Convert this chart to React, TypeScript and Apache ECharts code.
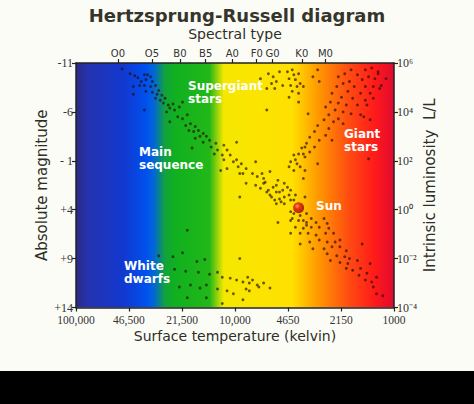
import React, { useEffect, useRef } from 'react';
import * as echarts from 'echarts';

// Axis tick values
const temperatureTicks = [100000, 46500, 21500, 10000, 4650, 2150, 1000];
const temperatureLabels = ['100,000', '46,500', '21,500', '10,000', '4650', '2150', '1000'];
const spectralTypes = ['O0', 'O5', 'B0', 'B5', 'A0', 'F0', 'G0', 'K0', 'M0'];
const spectralTemps = [54500, 33300, 22200, 15300, 10400, 7300, 5800, 3800, 2700];
const magnitudeTicks = [-11, -6, -1, 4, 9, 14];
const magnitudeLabels = ['-11', '-6', '- 1', '+4', '+9', '+14'];
const luminosityLabels = ['10\u2076', '10\u2074', '10\u00b2', '10\u2070', '10\u207b\u00b2', '10\u207b\u2074'];

// Stars: [log10 surface temperature (K), absolute magnitude]
const mainSequence = [
  [4.71, -10.4], [4.66, -9.9], [4.63, -9.7], [4.61, -9.5], [4.57, -9.8], [4.55, -9.8], [4.53, -9.6], [4.59, -9.1], [4.56, -9.3], [4.52, -9.1],
  [4.64, -8.6], [4.60, -8.7], [4.57, -8.7], [4.53, -8.6], [4.50, -8.7], [4.48, -8.2], [4.56, -8.1], [4.52, -8.0], [4.49, -7.8], [4.46, -7.7],
  [4.64, -7.8], [4.50, -7.4], [4.47, -7.2], [4.44, -7.4], [4.45, -6.9], [4.42, -6.7], [4.39, -6.8], [4.41, -6.4], [4.38, -6.2], [4.43, -6.0],
  [4.57, -6.2], [4.35, -6.5], [4.33, -7.0], [4.36, -5.5], [4.33, -5.3], [4.30, -5.7], [4.41, -5.0], [4.31, -4.6], [4.28, -4.8], [4.25, -4.5],
  [4.29, -4.1], [4.26, -4.0], [4.23, -4.1], [4.20, -3.8], [4.22, -3.5], [4.18, -3.5], [4.25, -3.3], [4.16, -3.1], [4.20, -2.9], [4.12, -2.8],
  [4.07, -2.6], [4.15, -2.4], [4.11, -2.1], [4.05, -2.1], [4.27, -2.3], [4.13, -1.7], [4.08, -1.6], [4.03, -1.6], [4.07, -1.1], [4.01, -0.9],
  [3.98, -0.4], [4.05, -0.2], [3.93, -0.2], [4.09, 0.0], [3.95, 0.3], [3.89, 0.3], [3.86, 0.6], [3.82, 0.8], [3.99, -2.9], [3.99, -1.1],
  [3.96, -0.7], [3.97, 0.3], [3.87, -0.9], [3.83, 0.3], [3.81, 1.2], [3.78, 0.1], [3.76, 1.7], [3.73, 1.0], [3.72, 2.2], [3.67, 1.7],
  [3.69, 2.7], [3.65, 2.0], [3.78, 2.5], [3.84, 1.8], [3.80, 2.2], [3.97, 2.7], [3.75, 3.0], [3.71, 3.2], [3.65, 3.0], [3.62, 2.5],
  [3.93, 1.3], [3.87, 1.5], [3.82, 1.3], [3.74, 1.5], [3.69, 1.3], [3.79, 2.0], [3.74, 2.2], [3.70, 2.0], [3.77, 2.7], [3.72, 2.9],
  [3.66, 2.5], [3.74, 3.4], [3.69, 3.4], [3.63, 3.0], [3.56, 2.7], [3.55, 4.4], [3.63, 4.4], [3.65, 5.1], [3.60, 5.1], [3.55, 5.3],
  [3.52, 4.9], [3.49, 5.3], [3.44, 4.9], [3.42, 5.4], [3.62, 5.8], [3.57, 5.9], [3.52, 5.8], [3.47, 5.8], [3.41, 5.9], [3.65, 6.4],
  [3.59, 6.4], [3.54, 6.4], [3.49, 6.6], [3.43, 6.4], [3.38, 6.4], [3.73, 5.3], [3.59, 7.5], [3.53, 7.3], [3.47, 7.1], [3.42, 7.3],
  [3.37, 7.3], [3.34, 7.1], [3.51, 8.0], [3.44, 8.0], [3.39, 7.8], [3.34, 7.8], [3.42, 8.5], [3.36, 8.7], [3.30, 8.2], [3.31, 8.8],
  [3.28, 9.0], [3.40, 9.2], [3.34, 9.4], [3.29, 9.5], [3.23, 9.2], [3.20, 7.5], [3.30, 10.0], [3.26, 10.2], [3.21, 10.0], [3.22, 10.7],
  [3.17, 10.5], [3.18, 11.2], [3.14, 11.4], [3.11, 10.9], [3.13, 11.9], [3.11, 12.6], [3.07, 12.8], [3.15, 9.5],
  [3.65, 4.2], [3.64, 4.9], [3.59, 4.6], [3.57, 5.1], [3.55, 5.6],
];

const giants = [
  [3.35, -9.6], [3.31, -9.9], [3.27, -10.3], [3.23, -9.8], [3.18, -10.3], [3.14, -10.5], [3.10, -10.1], [3.16, -9.6], [3.12, -9.4], [3.20, -9.3],
  [3.28, -9.1], [3.32, -8.9], [3.36, -8.6], [3.25, -8.6], [3.18, -8.6], [3.13, -8.6], [3.08, -8.7], [3.29, -8.1], [3.21, -7.9], [3.15, -7.9],
  [3.39, -7.9], [3.33, -7.5], [3.26, -7.4], [3.18, -7.2], [3.40, -7.0], [3.35, -6.9], [3.30, -6.7], [3.23, -6.7], [3.43, -6.5], [3.37, -6.2],
  [3.32, -6.0], [3.27, -5.8], [3.21, -5.7], [3.41, -5.7], [3.35, -5.3], [3.44, -5.2], [3.38, -5.0], [3.32, -4.8], [3.48, -4.6], [3.41, -4.3],
  [3.50, -4.0], [3.43, -3.6], [3.53, -3.4], [3.47, -3.1], [3.55, -2.8], [3.50, -2.4], [3.58, -2.3], [3.53, -1.9], [3.60, -1.7], [3.56, -1.4],
  [3.62, -1.1], [3.15, -5.2], [3.16, -1.2], [3.54, -5.8], [3.66, -0.4], [3.59, -0.4], [3.48, -0.7], [3.39, -3.1], [3.65, -0.9], [3.63, -1.6],
  [3.61, -0.7], [3.57, -1.7], [3.56, -2.4], [3.63, 0.0], [3.56, 0.0], [3.57, 0.8],
  [3.05, -9.4], [3.09, -8.4], [3.13, -7.4], [3.17, -6.7], [3.19, -5.5], [3.10, -9.9],
];

const supergiants = [
  [3.67, -10.1], [3.64, -10.3], [3.63, -9.8], [3.60, -9.9], [3.66, -9.4], [3.62, -9.3], [3.59, -8.9], [3.65, -8.7], [3.61, -8.6], [3.57, -8.6],
  [3.64, -8.1], [3.60, -7.9], [3.66, -7.5], [3.60, -7.0], [3.51, -9.6], [3.48, -10.3], [3.47, -9.1], [3.79, -9.9], [3.76, -9.6], [3.72, -10.1],
  [3.74, -9.1], [3.70, -8.7], [3.75, -8.4], [3.77, -8.9], [3.80, -6.2], [3.84, -9.4], [3.80, -8.4],
];

const whiteDwarfs = [
  [4.48, 8.7], [4.39, 8.8], [4.33, 8.4], [4.24, 9.3], [4.19, 9.1], [4.38, 10.1], [4.31, 10.3], [4.23, 10.4], [4.16, 10.6], [4.11, 10.4],
  [4.08, 10.9], [4.03, 11.0], [3.99, 11.2], [3.95, 11.4], [3.91, 11.5], [3.86, 11.7], [3.82, 11.5], [3.78, 12.0], [4.35, 11.9], [4.28, 11.7],
  [4.22, 12.0], [4.18, 11.7], [4.11, 12.1], [4.05, 12.3], [4.30, 13.0], [4.18, 13.0], [4.08, 13.6], [3.95, 13.2], [4.01, 12.6], [3.91, 12.3],
  [3.92, 10.9], [3.89, 11.2], [3.85, 11.9], [3.93, 12.1], [4.30, 6.1], [3.97, 9.0],
];

const sun = [[3.60, 3.8]];

const SANS = 'DejaVu Sans';
const SERIF = 'Liberation Serif';

export default function App() {
  const ref = useRef<HTMLDivElement>(null);

  useEffect(() => {
    if (!ref.current) return;
    const chart = echarts.init(ref.current, null, { renderer: 'svg' });

    const tempPos = temperatureTicks.map((t) => Math.log10(t));
    const specPos = spectralTemps.map((t) => Math.log10(t));
    const lookup = (positions: number[], labels: string[]) => (v: number) => {
      const i = positions.findIndex((p) => Math.abs(p - v) < 1e-6);
      return i >= 0 ? labels[i] : '';
    };

    const bg = new echarts.graphic.LinearGradient(0, 0, 1, 0, [
      { offset: 0, color: '#2b2a86' },
      { offset: 0.04, color: '#2333b0' },
      { offset: 0.15, color: '#1238d0' },
      { offset: 0.22, color: '#0050ee' },
      { offset: 0.245, color: '#0066d8' },
      { offset: 0.28, color: '#12a23a' },
      { offset: 0.31, color: '#10b020' },
      { offset: 0.42, color: '#22b818' },
      { offset: 0.465, color: '#f6e800' },
      { offset: 0.68, color: '#ffe000' },
      { offset: 0.76, color: '#ff9a00' },
      { offset: 0.86, color: '#ff4a12' },
      { offset: 0.94, color: '#ff1a1a' },
      { offset: 1, color: '#e00a30' },
    ]);

    const axisLine = { show: true, onZero: false, lineStyle: { color: '#222', width: 1.5 } };
    const tick = { show: true, inside: false, length: 4, lineStyle: { color: '#222', width: 1.2 } };
    const starStyle = { color: 'rgba(35,12,4,0.82)' };
    const labelFont = `bold 12px "${SANS}"`;

    chart.setOption({
      animation: false,
      backgroundColor: '#fcfcf7',
      title: {
        text: 'Hertzsprung-Russell diagram',
        left: 'center',
        top: 1,
        textStyle: { fontFamily: SANS, fontSize: 18, fontWeight: 'bold', color: '#35352b' },
      },
      grid: {
        left: 76, top: 63, width: 318, height: 244.5,
        show: true, backgroundColor: bg, borderWidth: 0,
      },
      xAxis: [
        {
          type: 'value', min: 3, max: 5, inverse: true, position: 'bottom',
          name: 'Surface temperature (kelvin)', nameLocation: 'middle', nameGap: 21, nameMoveOverlap: false,
          nameTextStyle: { fontFamily: SANS, fontSize: 14, color: '#2e2e26', lineHeight: 14 },
          axisLine, axisTick: { ...tick, customValues: tempPos },
          axisLabel: {
            customValues: tempPos, formatter: lookup(tempPos, temperatureLabels),
            fontFamily: SERIF, fontSize: 11.5, lineHeight: 12, color: '#333', margin: 6,
          },
          splitLine: { show: false },
        },
        {
          type: 'value', min: 3, max: 5, inverse: true, position: 'top',
          name: 'Spectral type', nameLocation: 'middle', nameGap: 22, nameMoveOverlap: false,
          nameTextStyle: { fontFamily: SANS, fontSize: 14, color: '#2e2e26' },
          axisLine, axisTick: { ...tick, customValues: specPos },
          axisLabel: {
            customValues: specPos, formatter: lookup(specPos, spectralTypes),
            fontFamily: SANS, fontSize: 10, color: '#333', margin: 5,
          },
          splitLine: { show: false },
        },
      ],
      yAxis: [
        {
          type: 'value', min: -11, max: 14, inverse: true, position: 'left',
          name: 'Absolute magnitude', nameLocation: 'middle', nameGap: 27, nameRotate: 90, nameMoveOverlap: false,
          nameTextStyle: { fontFamily: SANS, fontSize: 15, color: '#2e2e26' },
          axisLine, axisTick: { ...tick, customValues: magnitudeTicks },
          axisLabel: {
            customValues: magnitudeTicks, formatter: lookup(magnitudeTicks, magnitudeLabels),
            fontFamily: SERIF, fontSize: 12, color: '#333', margin: 3,
          },
          splitLine: { show: false },
        },
        {
          type: 'value', min: -11, max: 14, inverse: true, position: 'right',
          name: 'Intrinsic luminosity  L/L', nameLocation: 'middle', nameGap: 28, nameRotate: 90, nameMoveOverlap: false,
          nameTextStyle: { fontFamily: SANS, fontSize: 15, color: '#2e2e26' },
          axisLine, axisTick: { ...tick, customValues: magnitudeTicks },
          axisLabel: {
            customValues: magnitudeTicks, formatter: lookup(magnitudeTicks, luminosityLabels),
            fontFamily: SERIF, fontSize: 12, color: '#333', margin: 3,
          },
          splitLine: { show: false },
        },
      ],
      series: [
        { name: 'Main sequence', type: 'scatter', data: mainSequence, symbolSize: 2.9, itemStyle: starStyle, silent: true },
        { name: 'Giant stars', type: 'scatter', data: giants, symbolSize: 2.9, itemStyle: starStyle, silent: true },
        { name: 'Supergiant stars', type: 'scatter', data: supergiants, symbolSize: 2.9, itemStyle: starStyle, silent: true },
        { name: 'White dwarfs', type: 'scatter', data: whiteDwarfs, symbolSize: 2.9, itemStyle: starStyle, silent: true },
        {
          name: 'Sun', type: 'scatter', data: sun, symbolSize: 11, silent: true, z: 5,
          itemStyle: {
            color: new echarts.graphic.RadialGradient(0.38, 0.35, 0.7, [
              { offset: 0, color: '#ff8a6a' },
              { offset: 0.35, color: '#e01010' },
              { offset: 1, color: '#8a0000' },
            ]),
          },
        },
      ],
      graphic: [
        {
          type: 'text', left: 188, top: 80, z: 10,
          style: { text: 'Supergiant\nstars', fill: '#fff', font: labelFont, lineHeight: 12.5 },
        },
        {
          type: 'text', left: 139, top: 146, z: 10,
          style: { text: 'Main\nsequence', fill: '#fff', font: labelFont, lineHeight: 12.5 },
        },
        {
          type: 'text', left: 344, top: 128, z: 10,
          style: { text: 'Giant\nstars', fill: '#fff', font: labelFont, lineHeight: 12.5 },
        },
        {
          type: 'text', left: 124, top: 260, z: 10,
          style: { text: 'White\ndwarfs', fill: '#fff', font: labelFont, lineHeight: 12.5 },
        },
        {
          type: 'text', left: 316, top: 200, z: 10,
          style: { text: 'Sun', fill: '#fff', font: labelFont },
        },
        {
          type: 'rect', left: 0, top: 371, z: 10,
          shape: { width: 474, height: 33 }, style: { fill: '#000' },
        },
      ],
    });

    return () => chart.dispose();
  }, []);

  return (
    <div
      ref={ref}
      style={{ position: 'fixed', left: 0, top: 0, width: 474, height: 404 }}
    />
  );
}
